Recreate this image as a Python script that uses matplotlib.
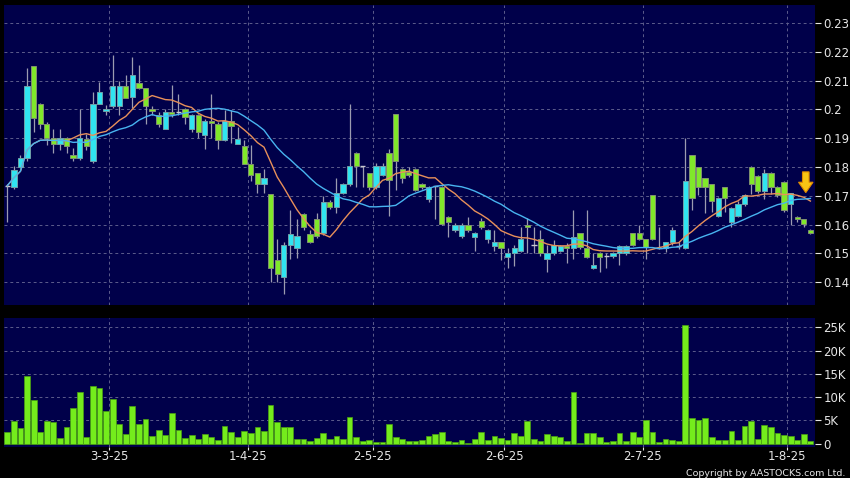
import numpy as np
import pandas as pd
import matplotlib
matplotlib.use("Agg")
import matplotlib.pyplot as plt
from matplotlib.patches import FancyArrow

# daily candles, 10 Feb 2025 - 7 Aug 2025 (trading days only)
opens = [0.1735, 0.173, 0.180, 0.183, 0.215, 0.202, 0.195, 0.190, 0.188, 0.190,
         0.184, 0.183, 0.1897, 0.182, 0.202, 0.1993, 0.201, 0.201, 0.208, 0.2043,
         0.209, 0.2073, 0.2, 0.198, 0.193, 0.1992, 0.1992, 0.2, 0.1931, 0.1981,
         0.1911, 0.196, 0.195, 0.1894, 0.196, 0.1881, 0.1872, 0.181, 0.178, 0.174,
         0.1707, 0.1477, 0.1418, 0.153, 0.1518, 0.1638, 0.1569, 0.1618, 0.157, 0.168,
         0.166, 0.1709, 0.174, 0.185, 0.1804, 0.178, 0.173, 0.1773, 0.185, 0.1984,
         0.1792, 0.1784, 0.1792, 0.174, 0.169, 0.1733, 0.173, 0.1628, 0.158, 0.156,
         0.16, 0.1558, 0.1611, 0.155, 0.1527, 0.1539, 0.1489, 0.15, 0.151, 0.16,
         0.153, 0.1549, 0.148, 0.15, 0.151, 0.1527, 0.1518, 0.157, 0.1518, 0.1449,
         0.15, 0.149, 0.149, 0.15, 0.15, 0.157, 0.157, 0.1549, 0.1701, 0.152,
         0.1518, 0.1538, 0.1527, 0.1518, 0.1841, 0.18, 0.176, 0.174, 0.163, 0.1729,
         0.161, 0.163, 0.167, 0.18, 0.177, 0.1718, 0.178, 0.1729, 0.1749, 0.1671,
         0.1628, 0.1618, 0.1581]
highs = [0.174, 0.1805, 0.1842, 0.2145, 0.2152, 0.2022, 0.1955, 0.193, 0.193, 0.1905,
         0.1865, 0.200, 0.1915, 0.206, 0.2096, 0.2015, 0.219, 0.210, 0.212, 0.2183,
         0.2154, 0.2075, 0.2012, 0.199, 0.2, 0.2084, 0.2052, 0.2005, 0.1985, 0.1985,
         0.1965, 0.2052, 0.1955, 0.1998, 0.1998, 0.194, 0.1894, 0.1876, 0.178, 0.1793,
         0.1707, 0.155, 0.1541, 0.165, 0.162, 0.164, 0.1582, 0.164, 0.170, 0.1685,
         0.176, 0.1745, 0.202, 0.1852, 0.1805, 0.178, 0.1813, 0.1813, 0.1863, 0.1985,
         0.1795, 0.180, 0.1795, 0.1745, 0.1733, 0.1735, 0.1735, 0.163, 0.1605, 0.1605,
         0.1628, 0.1575, 0.1622, 0.1585, 0.158, 0.154, 0.1518, 0.153, 0.1593, 0.1622,
         0.1593, 0.158, 0.153, 0.1547, 0.153, 0.1535, 0.165, 0.1572, 0.165, 0.15,
         0.1505, 0.150, 0.1505, 0.153, 0.153, 0.1572, 0.16, 0.155, 0.1702, 0.159,
         0.154, 0.1593, 0.1538, 0.1899, 0.1842, 0.18, 0.1762, 0.1742, 0.1695, 0.173,
         0.166, 0.1683, 0.1705, 0.1802, 0.1772, 0.1792, 0.1782, 0.1735, 0.175, 0.171,
         0.163, 0.162, 0.1585]
lows = [0.161, 0.1725, 0.1795, 0.182, 0.192, 0.193, 0.1875, 0.185, 0.186, 0.185,
        0.182, 0.1825, 0.186, 0.1815, 0.202, 0.198, 0.2005, 0.198, 0.204, 0.2003,
        0.207, 0.195, 0.198, 0.194, 0.193, 0.1975, 0.198, 0.195, 0.192, 0.19,
        0.1862, 0.1902, 0.1862, 0.189, 0.1882, 0.188, 0.181, 0.175, 0.171, 0.171,
        0.14, 0.14, 0.1358, 0.148, 0.1483, 0.158, 0.1535, 0.1555, 0.1565, 0.1655,
        0.164, 0.1705, 0.1735, 0.173, 0.173, 0.172, 0.1725, 0.177, 0.163, 0.172,
        0.1745, 0.1765, 0.1715, 0.1725, 0.168, 0.162, 0.16, 0.1558, 0.1575, 0.1555,
        0.1575, 0.151, 0.1585, 0.1535, 0.151, 0.1478, 0.1449, 0.1455, 0.1505, 0.15,
        0.15, 0.149, 0.1437, 0.1495, 0.1505, 0.1468, 0.148, 0.1515, 0.1485, 0.1445,
        0.1437, 0.1449, 0.1485, 0.146, 0.1495, 0.1525, 0.1545, 0.148, 0.1545, 0.1515,
        0.1505, 0.153, 0.1515, 0.1515, 0.165, 0.1703, 0.164, 0.1645, 0.1625, 0.1645,
        0.159, 0.1625, 0.1665, 0.1706, 0.171, 0.169, 0.1705, 0.1695, 0.1645, 0.16,
        0.161, 0.159, 0.1568]
closes = [0.1735, 0.179, 0.183, 0.208, 0.197, 0.195, 0.190, 0.188, 0.190, 0.1873,
          0.183, 0.190, 0.1872, 0.202, 0.206, 0.2, 0.208, 0.208, 0.204, 0.212,
          0.2073, 0.2012, 0.1993, 0.195, 0.199, 0.1983, 0.1992, 0.1972, 0.1981, 0.192,
          0.196, 0.1951, 0.1894, 0.196, 0.1941, 0.1898, 0.181, 0.1772, 0.174, 0.176,
          0.145, 0.1428, 0.153, 0.1569, 0.156, 0.159, 0.1539, 0.156, 0.168, 0.166,
          0.1709, 0.174, 0.1804, 0.1804, 0.1804, 0.173, 0.1802, 0.1802, 0.1755, 0.1819,
          0.176, 0.1773, 0.172, 0.173, 0.173, 0.1733, 0.1601, 0.161, 0.16, 0.16,
          0.158, 0.157, 0.1592, 0.1581, 0.1539, 0.1518, 0.15, 0.1518, 0.1549, 0.159,
          0.153, 0.15, 0.15, 0.153, 0.1527, 0.152, 0.1558, 0.1521, 0.1489, 0.146,
          0.1489, 0.149, 0.15, 0.1527, 0.1527, 0.153, 0.1549, 0.1521, 0.1549, 0.152,
          0.1538, 0.1582, 0.1527, 0.1751, 0.1691, 0.1731, 0.1731, 0.1682, 0.1691, 0.1691,
          0.1659, 0.167, 0.1701, 0.174, 0.1718, 0.178, 0.1729, 0.1701, 0.1651, 0.1708,
          0.1618, 0.1602, 0.157]
# volume in thousands of shares
volumes = [2.5, 4.8, 3.3, 14.6, 9.4, 2.5, 4.9, 4.6, 1.2, 3.5,
           7.7, 11.1, 1.5, 12.3, 11.9, 7.1, 9.7, 4.3, 2.0, 8.1,
           4.2, 5.4, 1.6, 3.0, 1.9, 6.5, 3.0, 1.2, 1.9, 1.1,
           2.0, 1.5, 0.9, 3.8, 2.6, 1.4, 2.8, 2.2, 3.6, 2.8,
           8.3, 4.7, 3.6, 3.7, 1.1, 1.1, 0.5, 1.3, 2.2, 1.1,
           1.7, 1.1, 5.8, 1.4, 0.6, 0.9, 0.4, 0.4, 4.2, 1.5,
           1.0, 0.6, 0.6, 0.7, 1.6, 2.1, 2.6, 0.6, 0.4, 0.9,
           0.2, 1.1, 2.5, 0.8, 1.6, 1.3, 0.9, 2.4, 1.6, 4.9,
           1.1, 0.6, 2.1, 1.7, 1.4, 0.6, 11.2, 0.2, 2.2, 2.2,
           1.4, 0.3, 0.6, 2.2, 0.6, 2.6, 1.4, 5.1, 2.5, 0.4,
           1.0, 0.7, 0.6, 25.4, 5.6, 5.0, 5.6, 1.4, 0.9, 0.9,
           2.8, 0.7, 3.8, 4.8, 1.1, 4.0, 3.5, 2.2, 1.9, 1.7,
           0.9, 2.0, 0.6]

# first trading day of each month shown on the axis (index into the series)
month_idx = [15, 36, 55, 75, 96, 118]
month_labels = ["3-3-25", "1-4-25", "2-5-25", "2-6-25", "2-7-25", "1-8-25"]

price_ticks = [0.14, 0.15, 0.16, 0.17, 0.18, 0.19, 0.20, 0.21, 0.22, 0.23]
vol_ticks = [0, 5, 10, 15, 20, 25]

navy = "#00004a"
grid_c = "#5c5c8c"
up_c = "#30e4f0"
dn_c = "#80e82a"
wick_c = "#9c9cb0"
txt_c = "#e6e6e6"

o = np.array(opens)
h = np.array(highs)
l = np.array(lows)
c = np.array(closes)
x = np.arange(len(c))

ma10 = pd.Series(c).rolling(10, min_periods=1).mean()
ma20 = pd.Series(c).rolling(20, min_periods=1).mean()

fig = plt.figure(figsize=(8.5, 4.78), dpi=100, facecolor="black")
ax = fig.add_axes([4/850, 1-305/478, 811/850, 300/478])
axv = fig.add_axes([4/850, 1-447/478, 811/850, 129/478])

grid_x = [m + 0.5 for m in month_idx]

for a in (ax, axv):
    a.set_facecolor(navy)
    for s in a.spines.values():
        s.set_visible(False)
    a.set_xlim(-0.5, 122.7)
    for gx in grid_x:
        a.axvline(gx, color=grid_c, lw=0.7, ls=(0, (3, 3)), zorder=0)
    a.yaxis.tick_right()
    a.tick_params(axis="y", colors=txt_c, labelsize=8.5, length=4, width=0.8, pad=2)

# price panel
for yv in price_ticks:
    ax.axhline(yv, color=grid_c, lw=0.7, ls=(0, (3, 3)), zorder=0)

ax.vlines(x, l, h, color=wick_c, lw=0.9, zorder=2)
bw = 0.8
up = c > o
dn = c < o
flat = c == o
ax.bar(x[up], (c - o)[up], bw, bottom=o[up], color=up_c, edgecolor="#6fa0a8", lw=0.7, zorder=3)
ax.bar(x[dn], (c - o)[dn], bw, bottom=o[dn], color=dn_c, edgecolor="#809070", lw=0.7, zorder=3)
ax.hlines(c[flat], x[flat] - bw/2, x[flat] + bw/2, color="#c8c8d0", lw=1.0, zorder=3)

ax.plot(x, ma10, color="#e8905a", lw=1.0, zorder=4)
ax.plot(x, ma20, color="#48b4f0", lw=1.0, zorder=4)

# marker for the latest bar
ax.add_patch(FancyArrow(121.3, 0.1783, 0, -0.0072, width=1.0, head_width=2.2,
                        head_length=0.0036, length_includes_head=True,
                        facecolor="#f8c414", edgecolor="#e08a00", lw=0.8, zorder=5))

ax.set_ylim(0.1321, 0.2362)
ax.set_yticks(price_ticks)
ax.set_yticklabels([f"{t:g}" for t in price_ticks])
ax.set_xticks([])

# volume panel
for yv in vol_ticks[1:]:
    axv.axhline(yv, color=grid_c, lw=0.7, ls=(0, (3, 3)), zorder=0)
axv.bar(x, volumes, 0.88, color="#74ec1c", edgecolor="#4aa012", lw=0.5, zorder=3)
axv.set_ylim(-0.7, 27.0)
axv.set_yticks(vol_ticks)
axv.set_yticklabels(["0" if t == 0 else f"{t}K" for t in vol_ticks])
axv.set_xticks(grid_x)
axv.set_xticklabels(month_labels)
axv.tick_params(axis="x", colors=txt_c, labelsize=8.5, length=2, width=0.8, pad=0.5)

fig.text(0.994, 0.001, "Copyright by AASTOCKS.com Ltd.", color=txt_c,
         fontsize=6.8, ha="right", va="bottom")

fig.savefig("out.png", dpi=100, facecolor="black")
